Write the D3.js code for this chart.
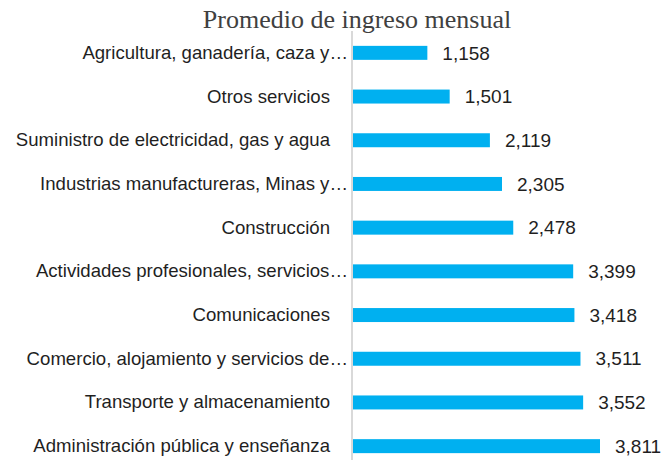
<!DOCTYPE html>
<html>
<head>
<meta charset="utf-8">
<script src="https://cdn.jsdelivr.net/npm/d3@7"></script>
<style>
  body { margin: 0; background: #fff; }
</style>
</head>
<body>
<script>
// categories from top to bottom, as in the picture
var categories = [
    "Agricultura, ganadería, caza y…",
    "Otros servicios",
    "Suministro de electricidad, gas y agua",
    "Industrias manufactureras, Minas y…",
    "Construcción",
    "Actividades profesionales, servicios…",
    "Comunicaciones",
    "Comercio, alojamiento y servicios de…",
    "Transporte y almacenamiento",
    "Administración pública y enseñanza"
];
var values = [1158, 1501, 2119, 2305, 2478, 3399, 3418, 3511, 3552, 3811];
var title = "Promedio de ingreso mensual";

window.onload = function() {
    var w = 667, h = 460;

    var svg = d3.select("body")
        .append("svg")
        .attr("width", w)
        .attr("height", h);

    // x goes from the axis line to the end of the longest bar
    var x = d3.scaleLinear()
        .domain([0, 3811])
        .range([352, 600]);

    var y = d3.scaleBand()
        .domain(categories)
        .range([31, 468])
        .paddingInner(0.68)
        .paddingOuter(0.34);

    // title
    svg.append("text")
        .attr("x", 357)
        .attr("y", 28)
        .attr("text-anchor", "middle")
        .style("font-family", "'Liberation Serif', 'DejaVu Serif', serif")
        .style("font-size", "26px")
        .style("fill", "#404040")
        .text(title);

    // bars
    svg.selectAll(".bar")
        .data(values)
        .enter()
        .append("rect")
        .attr("class", "bar")
        .attr("x", x(0))
        .attr("y", function(d, i) { return y(categories[i]); })
        .attr("width", function(d) { return x(d) - x(0); })
        .attr("height", y.bandwidth())
        .style("fill", "#00b0f0");

    // value labels
    svg.selectAll(".val")
        .data(values)
        .enter()
        .append("text")
        .attr("class", "val")
        .attr("x", function(d) { return x(d) + 15; })
        .attr("y", function(d, i) { return y(categories[i]) + y.bandwidth() / 2; })
        .attr("dy", "0.35em")
        .style("font-family", "'Liberation Sans', Arial, sans-serif")
        .style("font-size", "19px")
        .style("fill", "#1f1f1f")
        .text(function(d) { return d3.format(",")(d); });

    // category axis, no ticks
    var yAxis = d3.axisLeft(y).tickSize(0).tickPadding(22);
    var g = svg.append("g")
        .attr("transform", "translate(" + x(0) + ",0)")
        .call(yAxis);
    g.select(".domain")
        .attr("d", "M0,31V460")
        .style("stroke", "#d9d9d9")
        .style("stroke-width", 2);
    g.selectAll("text")
        .style("font-family", "'Liberation Sans', Arial, sans-serif")
        .style("font-size", "18.6px")
        .style("fill", "#1f1f1f")
        // truncated labels run their ellipsis up to the axis line
        .attr("x", function(d) { return d.slice(-1) === "…" ? -4 : -22; });
};
</script>
</body>
</html>
